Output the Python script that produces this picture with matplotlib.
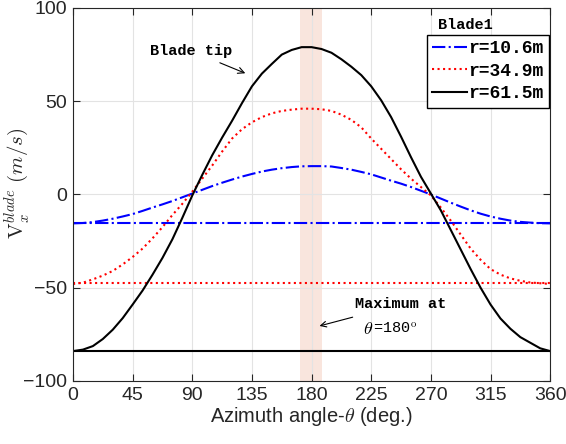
import numpy as np
import matplotlib
matplotlib.use('Agg')
import matplotlib.pyplot as plt

plt.rcParams['mathtext.fontset'] = 'cm'

# azimuth angle (deg) and V_x
theta = [0, 7.5, 15, 22.5, 30, 37.5, 45, 52.5, 60, 67.5, 75, 82.5, 90,
         97.5, 105, 112.5, 120, 127.5, 135, 142.5, 150, 157.5, 165, 172.5, 180,
         187.5, 195, 202.5, 210, 217.5, 225, 232.5, 240, 247.5, 255, 262.5, 270,
         277.5, 285, 292.5, 300, 307.5, 315, 322.5, 330, 337.5, 345, 352.5, 360]
v_r106 = [-15.5, -15.3, -14.8, -14.0, -13.0, -11.8, -10.5, -8.8, -7.0, -5.3, -3.5, -1.5, 0.5,
          2.5, 4.5, 6.3, 8.0, 9.6, 11.0, 12.3, 13.3, 14.1, 14.7, 15.1, 15.2,
          15.2, 15.0, 14.2, 13.3, 12.1, 10.8, 9.1, 7.4, 5.8, 4.0, 2.0, 0.0,
          -2.2, -4.4, -6.5, -8.5, -10.3, -11.8, -13.0, -14.0, -14.7, -15.1, -15.4, -15.5]
v_r349 = [-48.0, -47.3, -45.5, -43.5, -41.0, -37.5, -33.5, -29.0, -23.5, -17.5, -11.0, -5.0, 1.5,
          8.5, 15.5, 23.0, 30.0, 35.0, 38.7, 41.5, 43.5, 44.8, 45.5, 46.0, 46.0,
          45.7, 44.8, 42.8, 40.0, 36.0, 30.0, 24.5, 19.0, 13.5, 8.5, 4.0, -0.5,
          -7.0, -14.0, -21.5, -29.0, -35.0, -40.0, -43.0, -45.0, -46.3, -47.2, -47.6, -48.0]
v_r615 = [-84.0, -83.2, -81.3, -77.5, -72.5, -66.3, -59.0, -51.5, -43.0, -34.0, -24.0, -12.5, -0.5,
          10.5, 21.0, 30.5, 39.5, 49.0, 58.0, 64.8, 70.0, 75.0, 77.5, 79.0, 79.0,
          78.0, 76.0, 72.5, 68.5, 64.0, 58.0, 50.5, 41.5, 31.0, 20.0, 9.5, 0.5,
          -8.5, -19.0, -29.5, -40.0, -50.0, -59.0, -66.5, -72.0, -76.5, -79.5, -82.5, -84.0]
# constant values at theta = 0
base_r106 = -15.5
base_r349 = -47.7
base_r615 = -84.0
labels = ['r=10.6m', 'r=34.9m', 'r=61.5m']

fig = plt.figure(figsize=(5.66, 4.44), dpi=100)
ax = fig.add_axes([0.129, 0.142, 0.843, 0.840])

ax.axvspan(171, 188, color='#f9e5dd', zorder=0, lw=0)

ends = [theta[0], theta[-1]]
ax.plot(ends, [base_r106] * 2, color='blue', ls='-.', lw=1.5)
ax.plot(ends, [base_r349] * 2, color='red', ls=':', lw=1.5)
ax.plot(ends, [base_r615] * 2, color='black', ls='-', lw=1.5)
l1, = ax.plot(theta, v_r106, color='blue', ls='-.', lw=1.5)
l2, = ax.plot(theta, v_r349, color='red', ls=':', lw=1.5)
l3, = ax.plot(theta, v_r615, color='black', ls='-', lw=1.5)

ax.set_xlim(0, 360)
ax.set_ylim(-100, 100)
ax.set_xticks(np.arange(0, 361, 45))
ax.set_yticks([-100, -50, 0, 50, 100])
ax.grid(True, color='#e3e3e3', lw=0.8)
ax.set_axisbelow(True)
ax.tick_params(direction='in', top=True, right=True, labelsize=14,
               colors='#262626', length=5, pad=4)
for s in ax.spines.values():
    s.set_color('#262626')
for t in ax.get_xticklabels() + ax.get_yticklabels():
    t.set_family('Liberation Sans')

ax.set_xlabel(r'Azimuth angle-$\theta$ (deg.)', fontsize=14.5,
              family='Liberation Sans', color='#262626', labelpad=1)
ax.set_ylabel(r'$\mathrm{V}_x^{blade}\ (m/s)$', fontsize=15, color='#262626')
ax.yaxis.set_label_coords(-0.086, 0.53)

mono = {'family': 'Liberation Mono', 'weight': 'bold'}
leg = ax.legend([l1, l2, l3], labels, loc='upper right',
                bbox_to_anchor=(0.998, 0.928), prop=dict(mono, size=13),
                handlelength=1.9, handletextpad=0.1, borderpad=0.3,
                labelspacing=0.3, borderaxespad=0, fancybox=False,
                framealpha=1, edgecolor='black')
leg.get_frame().set_linewidth(1.0)
ax.text(296, 91, 'Blade1', ha='center', va='center', fontsize=11, **mono)

ax.annotate('Blade tip', xy=(130, 65), xytext=(89, 77),
            ha='center', va='center', fontsize=11, **mono,
            arrowprops=dict(arrowstyle='->', color='black', lw=0.8,
                            shrinkA=4, shrinkB=0))
ax.text(247, -58.5, 'Maximum at', ha='center', va='center', fontsize=11, **mono)
ax.annotate('', xy=(186, -70.5), xytext=(211, -65.8),
            arrowprops=dict(arrowstyle='->', color='black', lw=0.8,
                            shrinkA=0, shrinkB=0))
ax.text(226.5, -72, r'$\theta$', ha='right', va='center', fontsize=13,
        family='DejaVu Serif', weight='bold', style='italic')
ax.text(226.5, -72, r'=180$^{\mathrm{o}}$', ha='left', va='center', fontsize=11,
        family='Liberation Mono')

fig.savefig('out.png', dpi=100)
